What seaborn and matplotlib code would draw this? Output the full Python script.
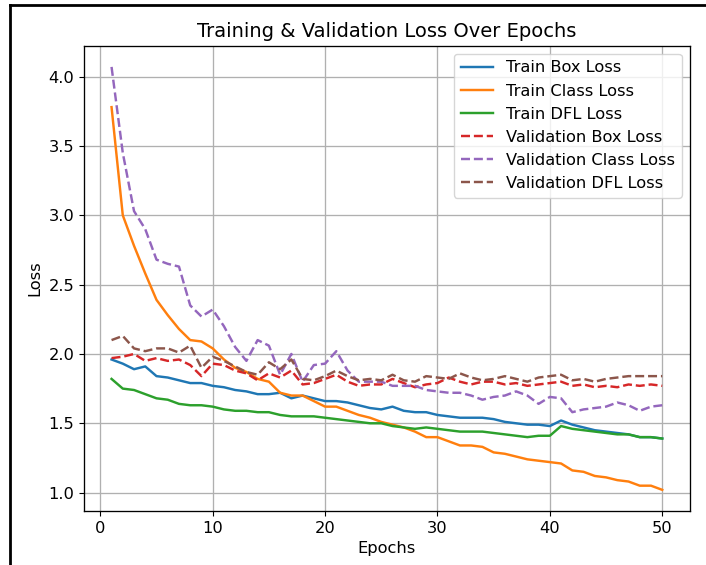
import numpy as np
import pandas as pd
import seaborn as sns
import matplotlib
matplotlib.use("Agg")
import matplotlib.pyplot as plt
from matplotlib.lines import Line2D

epochs = list(range(1, 51))

train_box = [1.96, 1.93, 1.89, 1.91, 1.84, 1.83, 1.81, 1.79, 1.79, 1.77,
             1.76, 1.74, 1.73, 1.71, 1.71, 1.72, 1.68, 1.70, 1.68, 1.66,
             1.66, 1.65, 1.63, 1.61, 1.60, 1.62, 1.59, 1.58, 1.58, 1.56,
             1.55, 1.54, 1.54, 1.54, 1.53, 1.51, 1.50, 1.49, 1.49, 1.48,
             1.52, 1.49, 1.47, 1.45, 1.44, 1.43, 1.42, 1.40, 1.40, 1.39]
train_cls = [3.78, 3.00, 2.78, 2.58, 2.39, 2.28, 2.18, 2.10, 2.09, 2.04,
             1.96, 1.90, 1.87, 1.82, 1.80, 1.72, 1.70, 1.70, 1.66, 1.62,
             1.62, 1.59, 1.56, 1.54, 1.51, 1.49, 1.47, 1.44, 1.40, 1.40,
             1.37, 1.34, 1.34, 1.33, 1.29, 1.28, 1.26, 1.24, 1.23, 1.22,
             1.21, 1.16, 1.15, 1.12, 1.11, 1.09, 1.08, 1.05, 1.05, 1.02]
train_dfl = [1.82, 1.75, 1.74, 1.71, 1.68, 1.67, 1.64, 1.63, 1.63, 1.62,
             1.60, 1.59, 1.59, 1.58, 1.58, 1.56, 1.55, 1.55, 1.55, 1.54,
             1.53, 1.52, 1.51, 1.50, 1.50, 1.48, 1.47, 1.46, 1.47, 1.46,
             1.45, 1.44, 1.44, 1.44, 1.43, 1.42, 1.41, 1.40, 1.41, 1.41,
             1.48, 1.46, 1.45, 1.44, 1.43, 1.42, 1.42, 1.40, 1.40, 1.39]
val_box = [1.97, 1.98, 2.00, 1.95, 1.97, 1.95, 1.96, 1.92, 1.84, 1.93,
           1.92, 1.88, 1.86, 1.81, 1.86, 1.83, 1.88, 1.78, 1.79, 1.82,
           1.85, 1.80, 1.77, 1.78, 1.78, 1.82, 1.79, 1.76, 1.78, 1.79,
           1.83, 1.80, 1.78, 1.80, 1.80, 1.78, 1.79, 1.77, 1.78, 1.79,
           1.80, 1.77, 1.78, 1.76, 1.77, 1.76, 1.78, 1.77, 1.78, 1.77]
val_cls = [4.07, 3.45, 3.03, 2.90, 2.68, 2.65, 2.63, 2.35, 2.27, 2.32,
           2.20, 2.05, 1.95, 2.10, 2.06, 1.85, 2.00, 1.80, 1.92, 1.93,
           2.02, 1.88, 1.80, 1.80, 1.80, 1.77, 1.77, 1.77, 1.74, 1.73,
           1.72, 1.72, 1.70, 1.67, 1.69, 1.70, 1.73, 1.70, 1.64, 1.69,
           1.68, 1.58, 1.60, 1.61, 1.62, 1.65, 1.63, 1.59, 1.62, 1.63]
val_dfl = [2.10, 2.13, 2.04, 2.02, 2.04, 2.04, 2.01, 2.06, 1.90, 1.98,
           1.95, 1.91, 1.87, 1.85, 1.94, 1.89, 1.96, 1.82, 1.81, 1.84,
           1.88, 1.84, 1.81, 1.82, 1.81, 1.85, 1.81, 1.80, 1.84, 1.83,
           1.82, 1.86, 1.83, 1.81, 1.82, 1.84, 1.82, 1.80, 1.83, 1.84,
           1.85, 1.81, 1.82, 1.80, 1.82, 1.83, 1.84, 1.84, 1.84, 1.84]

series = [
    ("Train Box Loss", train_box, "tab:blue", "-"),
    ("Train Class Loss", train_cls, "tab:orange", "-"),
    ("Train DFL Loss", train_dfl, "tab:green", "-"),
    ("Validation Box Loss", val_box, "tab:red", "--"),
    ("Validation Class Loss", val_cls, "tab:purple", "--"),
    ("Validation DFL Loss", val_dfl, "tab:brown", "--"),
]

# the reference was a scaled-up screenshot, so bump sizes a bit
plt.rcParams["font.size"] = 11.7
plt.rcParams["axes.titlesize"] = 14
plt.rcParams["grid.linewidth"] = 0.95
plt.rcParams["axes.linewidth"] = 0.95

fig = plt.figure(figsize=(7.06, 5.65), dpi=100)
ax = fig.add_axes([0.119, 0.0956, 0.858, 0.8234])

for name, vals, color, ls in series:
    sns.lineplot(x=epochs, y=vals, ax=ax, label=name, color=color, linestyle=ls, linewidth=1.75)

ax.set_title("Training & Validation Loss Over Epochs")
ax.set_xlabel("Epochs")
ax.set_ylabel("Loss")
ax.grid(True)
ax.legend(loc="upper right")

# screenshot frame on the left and top
fig.add_artist(Line2D([0.014, 0.014], [0, 0.991], color="black", linewidth=2))
fig.add_artist(Line2D([0.014, 1.0], [0.991, 0.991], color="black", linewidth=2))

fig.savefig("out.png", dpi=100)
